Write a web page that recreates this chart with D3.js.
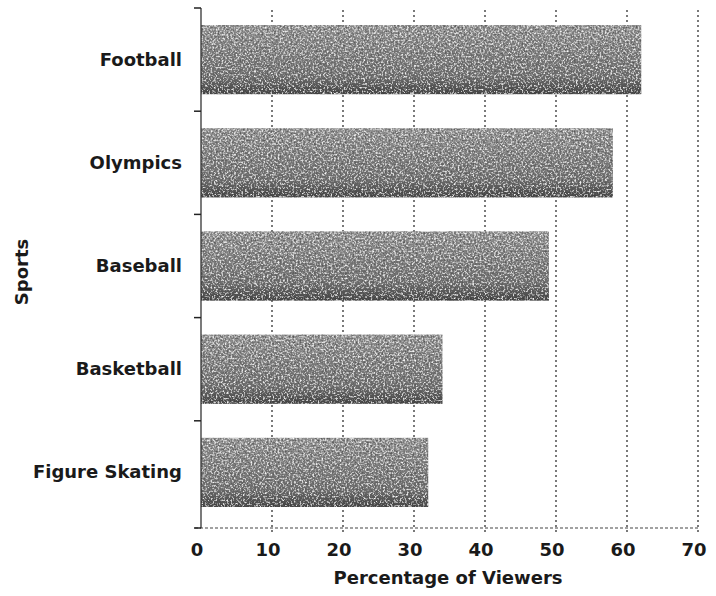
<!DOCTYPE html>
<html>
<head>
<meta charset="utf-8">
<script src="https://cdnjs.cloudflare.com/ajax/libs/d3/7.8.5/d3.min.js"></script>
<style>
  body { margin: 0; background: #fff; }
  text { font-family: "DejaVu Sans", sans-serif; font-weight: bold; fill: #1a1a1a; }
</style>
</head>
<body>
<div id="chart"></div>
<script>
// data
var sports = ["Football", "Olympics", "Baseball", "Basketball", "Figure Skating"];
var viewers = [62, 58, 49, 34, 32];
var xTicks = [0, 10, 20, 30, 40, 50, 60, 70];

var w = 716, h = 596;
var plotLeft = 201, plotRight = 698, plotTop = 8, plotBottom = 528;

var svg = d3.select("#chart").append("svg")
    .attr("width", w)
    .attr("height", h);

// bar texture: grey gradient + grain
var defs = svg.append("defs");
var grad = defs.append("linearGradient")
    .attr("id", "barGrad")
    .attr("x1", 0).attr("y1", 0).attr("x2", 0).attr("y2", 1);
grad.append("stop").attr("offset", "0%").attr("stop-color", "#9a9a9a");
grad.append("stop").attr("offset", "75%").attr("stop-color", "#747474");
grad.append("stop").attr("offset", "100%").attr("stop-color", "#3a3a3a");

var f = defs.append("filter").attr("id", "grain")
    .attr("x", 0).attr("y", 0).attr("width", 1).attr("height", 1);
f.append("feTurbulence")
    .attr("type", "fractalNoise")
    .attr("baseFrequency", 0.55)
    .attr("numOctaves", 2)
    .attr("seed", 3)
    .attr("result", "noise");
// dark specks
f.append("feColorMatrix")
    .attr("in", "noise")
    .attr("type", "matrix")
    .attr("values", "0 0 0 0 0.1  0 0 0 0 0.1  0 0 0 0 0.1  0 0 0 -3 1.6")
    .attr("result", "dark");
// light specks
f.append("feColorMatrix")
    .attr("in", "noise")
    .attr("type", "matrix")
    .attr("values", "0 0 0 0 0.95  0 0 0 0 0.95  0 0 0 0 0.95  0 0 0 3 -1.55")
    .attr("result", "light");
f.append("feMerge").attr("result", "specks").call(function(m) {
  m.append("feMergeNode").attr("in", "dark");
  m.append("feMergeNode").attr("in", "light");
});
f.append("feComposite")
    .attr("in", "specks").attr("in2", "SourceGraphic")
    .attr("operator", "in").attr("result", "specksIn");
f.append("feMerge").call(function(m) {
  m.append("feMergeNode").attr("in", "SourceGraphic");
  m.append("feMergeNode").attr("in", "specksIn");
});

var x = d3.scaleLinear().domain([0, 70]).range([plotLeft, plotRight]);
var y = d3.scaleBand().domain(sports).range([plotTop, plotBottom - 4])
    .paddingInner(0.33).paddingOuter(0.165);

// dotted vertical grid
svg.append("g").selectAll("line")
    .data(xTicks.slice(1))
    .enter().append("line")
    .attr("x1", function(d) { return x(d); })
    .attr("x2", function(d) { return x(d); })
    .attr("y1", plotTop + 2)
    .attr("y2", plotBottom + 4)
    .attr("stroke", "#333")
    .attr("stroke-width", 1.3)
    .attr("stroke-dasharray", "2,3");

// bars
svg.append("g").selectAll("rect")
    .data(sports)
    .enter().append("rect")
    .attr("x", x(0))
    .attr("y", function(d) { return y(d); })
    .attr("width", function(d, i) { return x(viewers[i]) - x(0); })
    .attr("height", y.bandwidth())
    .attr("fill", "url(#barGrad)")
    .attr("filter", "url(#grain)");

// x axis (dotted baseline)
svg.append("line")
    .attr("x1", x(0) - 6).attr("x2", plotRight)
    .attr("y1", plotBottom).attr("y2", plotBottom)
    .attr("stroke", "#444")
    .attr("stroke-width", 1.2)
    .attr("stroke-dasharray", "3,2");

svg.append("g").selectAll("text")
    .data(xTicks)
    .enter().append("text")
    .attr("x", function(d) { return x(d) - 4; })
    .attr("y", plotBottom + 28)
    .attr("text-anchor", "middle")
    .attr("font-size", "18px")
    .text(function(d) { return d; });

// y axis with ticks on band edges
svg.append("line")
    .attr("x1", x(0)).attr("x2", x(0))
    .attr("y1", plotTop).attr("y2", plotBottom)
    .attr("stroke", "#333")
    .attr("stroke-width", 1.3);

var edges = sports.map(function(d) { return y(d) - y.step() * y.paddingInner() / 2; });
edges.push(plotBottom);
svg.append("g").selectAll("line")
    .data(edges)
    .enter().append("line")
    .attr("x1", x(0) - 7).attr("x2", x(0))
    .attr("y1", function(d) { return d; })
    .attr("y2", function(d) { return d; })
    .attr("stroke", "#222")
    .attr("stroke-width", 1.5);

svg.append("g").selectAll("text")
    .data(sports)
    .enter().append("text")
    .attr("x", 182)
    .attr("y", function(d) { return y(d) + y.bandwidth() / 2 + 6; })
    .attr("text-anchor", "end")
    .attr("font-size", "18px")
    .text(function(d) { return d; });

// axis titles
svg.append("text")
    .attr("x", 448)
    .attr("y", 584)
    .attr("text-anchor", "middle")
    .attr("font-size", "18px")
    .text("Percentage of Viewers");

svg.append("text")
    .attr("transform", "translate(28,272) rotate(-90)")
    .attr("text-anchor", "middle")
    .attr("font-size", "18px")
    .text("Sports");
</script>
</body>
</html>
